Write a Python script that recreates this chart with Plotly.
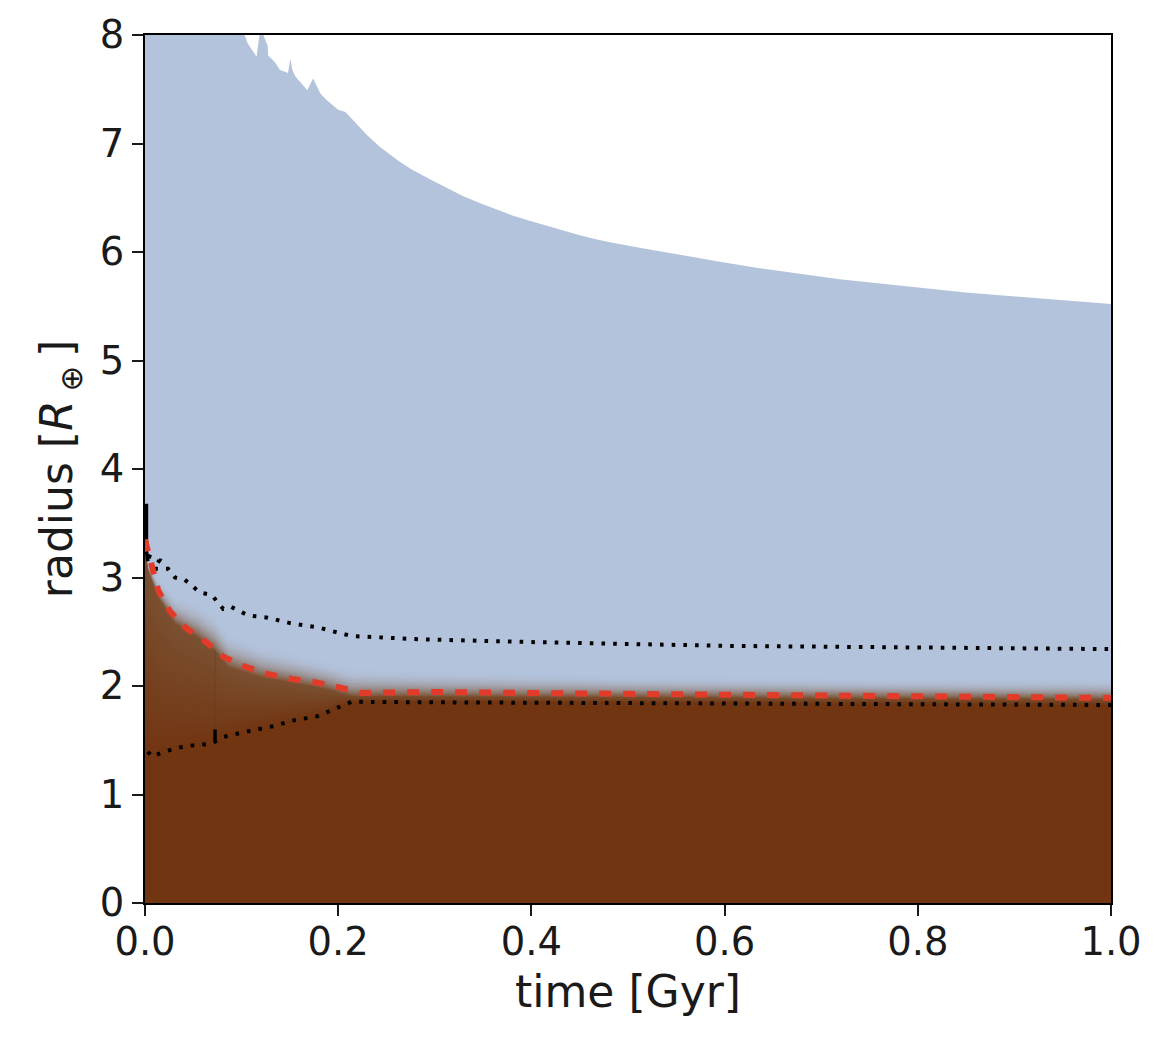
import numpy as np
import plotly.graph_objects as go

# outer envelope of the blue region
env_t = [0, 0.103, 0.1065, 0.1155, 0.1185, 0.1225, 0.127, 0.1275, 0.1345, 0.1395, 0.148, 0.1505, 0.1525, 0.1555, 0.168, 0.174, 0.1815,
         0.188, 0.2, 0.2075, 0.2295, 0.243, 0.264, 0.277, 0.295, 0.312, 0.329, 0.347, 0.364, 0.381, 0.399, 0.416, 0.433, 0.45,
         0.468, 0.484, 0.512, 0.543, 0.592, 0.633, 0.681, 0.719, 0.761, 0.802, 0.847, 0.901, 0.95, 1.0]
env_r = [9, 8.0, 7.92, 7.8, 8.0, 8.0, 7.9, 7.81, 7.75, 7.68, 7.65, 7.78, 7.68, 7.62, 7.49, 7.6, 7.46,
         7.4, 7.31, 7.29, 7.08, 6.97, 6.83, 6.755, 6.67, 6.59, 6.515, 6.45, 6.39, 6.335, 6.285, 6.24, 6.195, 6.155,
         6.115, 6.085, 6.04, 5.99, 5.915, 5.855, 5.795, 5.75, 5.71, 5.67, 5.63, 5.59, 5.555, 5.52]

# brown / blue transition band
band_t = [0, 0.003, 0.0137, 0.031, 0.055, 0.072, 0.086, 0.12, 0.155, 0.186, 0.214, 0.3, 0.5, 0.75, 1.0]
band_edge = [3.25, 3.07, 2.82, 2.58, 2.45, 2.33, 2.18, 2.085, 2.03, 1.98, 1.91, 1.905, 1.9, 1.89, 1.88]
band_fade = [0.04, 0.08, 0.18, 0.28, 0.34, 0.36, 0.34, 0.32, 0.3, 0.28, 0.28, 0.26, 0.22, 0.2, 0.2]
band_lower = [1.39, 1.39, 1.37, 1.42, 1.46, 1.48, 1.53, 1.62, 1.68, 1.74, 1.85, 1.85, 1.84, 1.83, 1.82]

# dotted upper curve
up_t = [0.003, 0.015, 0.009, 0.024, 0.031, 0.041, 0.048, 0.057, 0.069, 0.074, 0.081, 0.089, 0.107, 0.127, 0.15, 0.179,
        0.197, 0.214, 0.238, 0.286, 0.4, 0.6, 0.8, 1.0]
up_r = [3.2, 3.16, 3.08, 3.08, 3.0, 2.98, 2.93, 2.86, 2.84, 2.78, 2.71, 2.73, 2.65, 2.63, 2.58, 2.54,
        2.5, 2.46, 2.45, 2.43, 2.405, 2.37, 2.355, 2.34]
spike_t = [0.0015, 0.0015, 0.003]
spike_r = [3.68, 3.25, 3.15]

# dotted lower curve
low_t = [0.003, 0.007, 0.022, 0.041, 0.064, 0.072, 0.081, 0.1, 0.133, 0.152, 0.178, 0.198, 0.214, 0.286, 0.6, 1.0]
low_r = [1.395, 1.35, 1.40, 1.445, 1.465, 1.485, 1.53, 1.57, 1.63, 1.68, 1.72, 1.795, 1.855, 1.85, 1.84, 1.825]
jump_t = [0.0725, 0.0725]
jump_r = [1.48, 1.6]
streak_t = [0.0725, 0.0725]
streak_r = [1.6, 2.33]

# red dashed curve
red_t = [0, 0.007, 0.0137, 0.026, 0.043, 0.064, 0.081, 0.103, 0.127, 0.152, 0.176, 0.2, 0.224, 0.248, 0.272, 0.3, 0.4, 0.6, 0.8, 1.0]
red_r = [3.35, 3.09, 2.88, 2.685, 2.53, 2.40, 2.27, 2.18, 2.11, 2.065, 2.035, 1.99, 1.935, 1.94, 1.945, 1.945, 1.935, 1.92, 1.905, 1.89]

x_ticks = [0.0, 0.2, 0.4, 0.6, 0.8, 1.0]
y_ticks = [0, 1, 2, 3, 4, 5, 6, 7, 8]

BLUE = (179, 195, 220)
EDGE = (122, 80, 48)
BASE = (114, 53, 18)
INK = "#1a1a1a"


def mix(a, b, f):
    return "rgb(%d,%d,%d)" % tuple(round(a[i] * (1 - f) + b[i] * f) for i in range(3))


def area(x, y, colour):
    return go.Scatter(x=x, y=y, mode="lines", line=dict(width=0), fill="tozeroy",
                      fillcolor=colour, hoverinfo="skip", showlegend=False)


fig = go.Figure()
fig.add_trace(area(env_t, env_r, mix(BLUE, BLUE, 0)))

edge = np.array(band_edge)
fade = np.array(band_fade)
lower = np.array(band_lower)
N = 24
for k in range(1, N + 1):
    f = k / N
    fig.add_trace(area(band_t, edge + (1 - f) * fade, mix(BLUE, EDGE, f ** 2.4)))
for k in range(1, N + 1):
    f = k / N
    fig.add_trace(area(band_t, lower + (1 - f) * (edge - lower), mix(EDGE, BASE, f)))

fig.add_trace(go.Scatter(x=streak_t, y=streak_r, mode="lines", showlegend=False,
                         line=dict(color="rgba(100,60,30,0.35)", width=1.5)))
dots = dict(color="black", width=4, dash="3.6px,8.1px")
fig.add_trace(go.Scatter(x=up_t, y=up_r, mode="lines", showlegend=False, line=dots))
fig.add_trace(go.Scatter(x=low_t, y=low_r, mode="lines", showlegend=False, line=dots))
fig.add_trace(go.Scatter(x=jump_t, y=jump_r, mode="lines", showlegend=False,
                         line=dict(color="black", width=3.5)))
fig.add_trace(go.Scatter(x=spike_t, y=spike_r, mode="lines", showlegend=False,
                         line=dict(color="black", width=3.5)))
fig.add_trace(go.Scatter(x=red_t, y=red_r, mode="lines", showlegend=False,
                         line=dict(color="#e33b2a", width=6, dash="12px,12px")))

axis = dict(showgrid=False, zeroline=False, showline=True, linecolor="black", linewidth=2, mirror=True,
            automargin=False, ticks="outside", ticklen=11, tickwidth=2, tickcolor=INK, layer="above traces",
            tickfont=dict(size=38.5, color=INK))
fig.update_xaxes(range=[0, 1], tickvals=x_ticks, ticktext=[f"{v:.1f}" for v in x_ticks], ticklabelstandoff=-7,
                 title=dict(text="time [Gyr]", font=dict(size=44, color=INK), standoff=13), **axis)
fig.update_yaxes(range=[0, 8], tickvals=y_ticks,
                 title=dict(text="radius [<i>R</i>\u2009<sub>⊕</sub>\u2009]", font=dict(size=44, color=INK), standoff=13), **axis)
fig.update_layout(width=1170, height=1040, autosize=False, showlegend=False,
                  margin=dict(l=137, r=67, t=27, b=145), paper_bgcolor="white", plot_bgcolor="white",
                  font=dict(family="DejaVu Sans"))
fig.write_html("out.html")
